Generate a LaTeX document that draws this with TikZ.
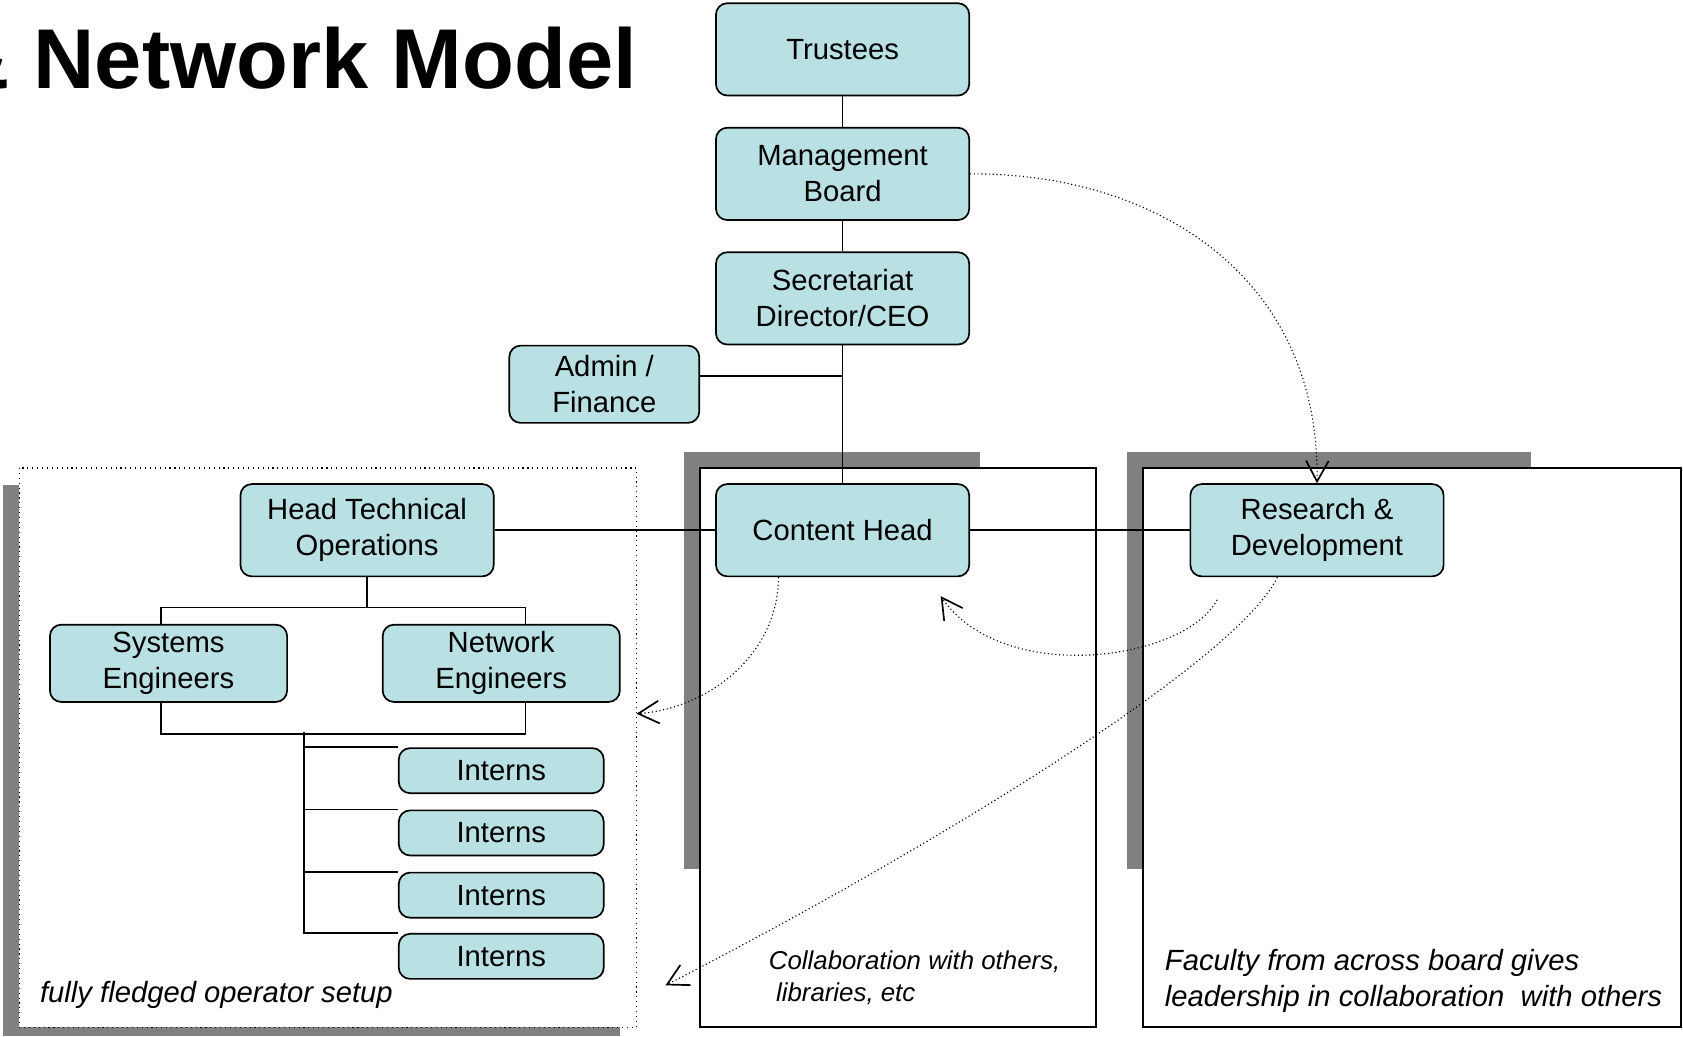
\documentclass[tikz,border=0pt]{standalone}
\usepackage{fontspec}
\setmainfont{Liberation Sans}
\usetikzlibrary{arrows.meta}
\definecolor{boxfill}{RGB}{185, 224, 227}
\definecolor{shadowgrey}{RGB}{128, 128, 128}
\tikzset{
  unit/.style={draw=black, fill=boxfill, rounded corners=6pt, line width=0.9pt, align=center, font=\fontsize{15.5pt}{19.2pt}\selectfont},
  bigunit/.style={unit, minimum width=4.72cm, minimum height=1.72cm},
  engunit/.style={unit, minimum width=4.42cm, minimum height=1.44cm},
  internunit/.style={unit, minimum width=3.82cm, minimum height=0.84cm},
  wire/.style={line width=0.85pt},
  link/.style={line width=0.6pt, dash pattern=on 0.6pt off 1.4pt, -{Straight Barb[length=11pt, width=12pt, line width=0.9pt]}},
  note/.style={font=\fontsize{15.5pt}{18.8pt}\selectfont\itshape, align=left, inner sep=0pt}
}
\begin{document}
\begin{tikzpicture}[x=0.02cm, y=-0.02cm]
			\useasboundingbox (0, 0) rectangle (1568, 966);
			% title, cut at the left edge
			\node[anchor=base east, inner sep=0pt, font=\fontsize{45pt}{54pt}\selectfont\bfseries] (title) at (594, 82) {\& Network Model};
			% frames with their grey shadows
			\fill [shadowgrey] (3, 452) rectangle (578, 965);
			\filldraw [draw=black, fill=white, line width=0.6pt, dotted] (18, 436) rectangle (593, 957);
			\fill [shadowgrey] (637, 421) rectangle (913, 810);
			\filldraw [draw=black, fill=white, line width=0.75pt] (652, 436) rectangle (1021, 957);
			\fill [shadowgrey] (1050, 421) rectangle (1426, 810);
			\filldraw [draw=black, fill=white, line width=0.75pt] (1065, 436) rectangle (1566, 957);
			% boxes
			\node[bigunit] (trustees) at (785, 46) {Trustees};
			\node[bigunit] (board) at (785, 162) {Management\\Board};
			\node[bigunit] (ceo) at (785, 278) {Secretariat\\Director/CEO};
			\node[unit, minimum width=3.54cm, minimum height=1.44cm] (admin) at (563, 358) {Admin /\\Finance};
			\node[bigunit] (content) at (785, 494) {Content Head};
			\node[bigunit] (techhead) at (342, 494) {Head Technical\\Operations};
			\node[bigunit] (research) at (1227, 494) {Research \&\\Development};
			\node[engunit] (sysen) at (157, 618) {Systems\\Engineers};
			\node[engunit] (neten) at (467, 618) {Network\\Engineers};
			\node[internunit] (intern1) at (467, 718) {Interns};
			\node[internunit] (intern2) at (467, 776) {Interns};
			\node[internunit] (intern3) at (467, 834) {Interns};
			\node[internunit] (intern4) at (467, 891) {Interns};
			% texts
			\node[note, anchor=base west] (setup) at (37, 934) {fully fledged operator setup};
			\node[note, anchor=west, font=\fontsize{13.7pt}{17.1pt}\selectfont\itshape] (collab) at (716, 911) {Collaboration with others,\\ \ libraries, etc};
			\node[note, anchor=west] (faculty) at (1085, 914) {Faculty from across board gives\\leadership in collaboration\ \ with others};
			% lines
			\draw[wire] (trustees) -- (board);
			\draw[wire] (board) -- (ceo);
			\draw[wire] (ceo) -- (content);
			\draw[wire] ([yshift=4.5pt]admin.east) -- ([yshift=4.5pt]admin.east -| ceo.south);
			\draw[wire] (techhead) -- (content);
			\draw[wire] (content) -- (research);
			\coordinate (fork) at (342, 566);
			\draw[wire] (techhead) -- (fork);
			\draw[wire] ([xshift=-4pt]sysen.north) |- (fork) -| ([xshift=12.8pt]neten.north);
			\draw[wire] ([xshift=-4pt]sysen.south) -- ++(0, 29) -| ([xshift=12.8pt]neten.south);
			\coordinate (trunk) at (283, 682);
			\draw[wire] (trunk) |- (intern4.north west);
			\draw[wire] (trunk |- intern1.north west) -- (intern1.north west);
			\draw[wire] (trunk |- intern2.north west) -- (intern2.north west);
			\draw[wire] (trunk |- intern3.north west) -- (intern3.north west);
			% dotted arrows
			\coordinate (leftframe) at (593, 665);
			\coordinate (setupframe) at (620, 918);
			\draw[link] (board.east) .. controls (1080, 161) and (1230, 260) .. (research.north);
			\draw[link] ([xshift=-34pt]content.south) .. controls (725, 610) and (660, 660) .. (leftframe);
			\draw[link] ([xshift=-53pt, yshift=-12pt]research.south) .. controls (1105, 615) and (935, 640) .. ([xshift=52pt, yshift=-10pt]content.south);
			\draw[link] ([xshift=-21pt]research.south) .. controls (1150, 620) and (850, 800) .. (setupframe);
		\end{tikzpicture}
\end{document}
